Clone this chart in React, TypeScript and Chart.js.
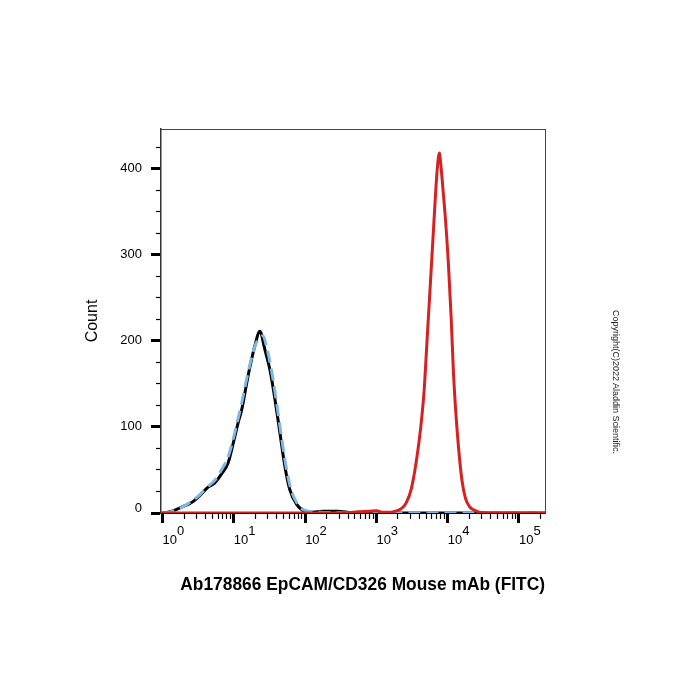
import React, { useEffect, useRef } from 'react';
import { Chart, registerables } from 'chart.js';

Chart.register(...registerables);

// ---- data (fluorescence intensity, count) ----
const blackX = [1.0, 1.14, 1.45, 1.75, 2.2, 2.7, 3.4, 4.2, 5.4, 6.8, 8.3, 9.8, 11.5, 12.9, 15.8, 19.7, 23.2, 27.2, 32.1, 37.7, 44.3, 52, 61, 76, 100, 126, 178, 282, 398, 500, 1000, 10000, 232000];
const blackY = [0, 0.5, 3, 6, 9.5, 13.5, 21, 29, 35, 46, 58, 81, 105, 120, 159, 194, 211, 190, 166, 132, 93, 54, 27, 10, 2, 1, 2, 2, 1, 0, 0, 0, 0];

const blueX = [1.0, 1.26, 1.78, 2.2, 2.7, 3.4, 4.2, 5.4, 6.8, 8.3, 9.8, 11.5, 12.9, 15.8, 20, 23.4, 25.7, 28.2, 33, 39, 45.7, 53.7, 63, 79, 100, 158, 300, 500, 232000];
const blueY = [0, 1, 6, 10, 15, 22, 30, 38, 51, 65, 86, 110, 128, 163, 195, 204, 206, 196, 170, 133, 93, 55, 28, 10, 3, 1, 0.5, 0, 0];

const redX = [0.95, 200, 400, 550, 800, 1000, 1200, 1600, 1820, 2240, 2630, 3090, 3630, 4170, 4680, 5130, 5750, 6310, 7000, 7410, 7670, 7760, 8510, 9330, 10230, 11220, 12020, 12880, 14130, 15850, 17780, 20420, 25700, 30000, 40000, 232000];
const redY = [0, 0, 0.5, 1.5, 2, 2.5, 1, 1, 2, 5, 12, 28, 60, 98, 143, 200, 270, 328, 390, 413, 418, 416, 380, 340, 290, 225, 165, 122, 78, 38, 17, 7, 2, 0.5, 0, 0];

// ---- axes ----
const xMin = 0.95;
const xMax = 232000;
const yMin = 0;
const yMax = 446;
const xMajorTicks = [1, 10, 100, 1000, 10000, 100000];
const xTickExponents = ['0', '1', '2', '3', '4', '5'];
const xMinorMultipliers = [2, 3, 4, 5, 6, 7, 8, 9];
const yTicks = [0, 25, 50, 75, 100, 125, 150, 175, 200, 225, 250, 275, 300, 325, 350, 375, 400, 425];
const yLabelTicks = [0, 100, 200, 300, 400];

const xAxisTitle = 'Ab178866 EpCAM/CD326 Mouse mAb (FITC)';
const yAxisTitle = 'Count';
const copyrightText = 'Copyright(C)2022 Aladdin Scientific.';

const FONT = 'Liberation Sans, Arial, Helvetica, sans-serif';

function pts(xs: number[], ys: number[]) {
  return xs.map((x, i) => ({ x, y: ys[i] }));
}

function buildXTicks() {
  const out: { value: number }[] = [];
  xMajorTicks.forEach((m) => {
    out.push({ value: m });
    xMinorMultipliers.forEach((k) => {
      if (m * k <= xMax) out.push({ value: m * k });
    });
  });
  return out;
}

const isXMajor = (v: number) => xMajorTicks.some((m) => Math.abs(m - v) < 1e-6 * m);
const isYMajor = (v: number) => yLabelTicks.includes(v);

export default function App() {
  const ref = useRef<HTMLCanvasElement | null>(null);

  useEffect(() => {
    if (!ref.current) return;
    Chart.defaults.font.family = FONT;
    const chart = new Chart(ref.current, {
      type: 'line',
      data: {
        datasets: [
          {
            label: 'EpCAM',
            data: pts(redX, redY),
            borderColor: '#d42222',
            borderWidth: 3,
            pointRadius: 0,
            fill: false,
            cubicInterpolationMode: 'monotone',
            order: 0,
          },
          {
            label: 'Blank',
            data: pts(blueX, blueY),
            borderColor: 'rgb(128,182,226)',
            borderWidth: 3,
            borderDash: [12, 6],
            pointRadius: 0,
            fill: false,
            cubicInterpolationMode: 'monotone',
            order: 1,
          },
          {
            label: 'Isotype',
            data: pts(blackX, blackY),
            borderColor: '#000000',
            borderWidth: 3,
            pointRadius: 0,
            fill: false,
            cubicInterpolationMode: 'monotone',
            order: 2,
          },
        ],
      },
      options: {
        responsive: false,
        animation: false,
        devicePixelRatio: 1,
        layout: { padding: { left: 0, top: 129, right: 155, bottom: 0 } },
        plugins: { legend: { display: false }, tooltip: { enabled: false } },
        scales: {
          x: {
            type: 'logarithmic',
            position: 'bottom',
            min: xMin,
            max: xMax,
            afterBuildTicks: (s: any) => {
              s.ticks = buildXTicks();
            },
            afterFit: (s: any) => {
              s.height = 187;
            },
            ticks: {
              autoSkip: false,
              maxRotation: 0,
              minRotation: 0,
              align: 'start',
              padding: 4,
              color: '#000',
              font: { size: 13, lineHeight: '9px' },
              callback: (v: any) => {
                const idx = xMajorTicks.findIndex((m) => Math.abs(m - Number(v)) < 1e-6 * m);
                if (idx < 0) return '';
                return ['\u2007\u2007' + xTickExponents[idx], '10'];
              },
            },
            grid: {
              display: true,
              drawOnChartArea: false,
              drawTicks: true,
              tickLength: 10,
              tickColor: '#000',
              tickWidth: (c: any) => (c.tick && isXMajor(c.tick.value) ? 3 : 1.2),
              tickBorderDash: (c: any) => (c.tick && isXMajor(c.tick.value) ? [] : [5, 10]),
              tickBorderDashOffset: 0,
            },
            border: { display: true, color: '#000', width: 2 },
            title: {
              display: true,
              text: '    ' + xAxisTitle,
              color: '#000',
              font: { size: 17.5, weight: 'bold' },
              padding: { top: 0, bottom: 104 },
            },
          },
          y: {
            type: 'linear',
            position: 'left',
            min: yMin,
            max: yMax,
            afterBuildTicks: (s: any) => {
              s.ticks = yTicks.map((v) => ({ value: v }));
            },
            afterFit: (s: any) => {
              s.width = 161;
            },
            ticks: {
              autoSkip: false,
              padding: 9,
              color: '#000',
              font: { size: 13, lineHeight: '10px' },
              callback: (v: any) => {
                const n = Number(v);
                if (n === 0) return ['0', ''];
                return isYMajor(n) ? String(n) : '';
              },
            },
            grid: {
              display: true,
              drawOnChartArea: false,
              drawTicks: true,
              tickLength: 10,
              tickColor: '#000',
              tickWidth: (c: any) => (c.tick && isYMajor(c.tick.value) ? 3 : 1.2),
              tickBorderDash: (c: any) => (c.tick && isYMajor(c.tick.value) ? [] : [5, 5]),
              tickBorderDashOffset: (c: any) => (c.tick && isYMajor(c.tick.value) ? 0 : 5),
            },
            border: { display: true, color: '#333', width: 1.5 },
            title: {
              display: true,
              text: yAxisTitle,
              color: '#000',
              font: { size: 16 },
              padding: { top: 83, bottom: 0 },
            },
          },
          x2: {
            type: 'linear',
            position: 'top',
            display: true,
            afterFit: (s: any) => {
              s.height = 0;
            },
            ticks: { display: false },
            grid: { display: false, drawTicks: false },
            border: { display: true, color: '#444', width: 1 },
          },
          y2: {
            type: 'linear',
            position: 'right',
            display: true,
            afterFit: (s: any) => {
              s.width = 0;
            },
            ticks: { display: false },
            grid: { display: false, drawTicks: false },
            border: { display: true, color: '#444', width: 1 },
          },
        },
      } as any,
    });
    return () => chart.destroy();
  }, []);

  return (
    <div style={{ position: 'absolute', left: 0, top: 0, width: 700, height: 700, background: '#fff' }}>
      <canvas ref={ref} width={700} height={700} style={{ width: 700, height: 700, display: 'block' }} />
      <div
        style={{
          position: 'absolute',
          left: 611,
          top: 310,
          writingMode: 'vertical-rl',
          fontFamily: FONT,
          fontSize: 9,
          lineHeight: '10px',
          color: '#222',
          whiteSpace: 'nowrap',
        }}
      >
        {copyrightText}
      </div>
    </div>
  );
}
